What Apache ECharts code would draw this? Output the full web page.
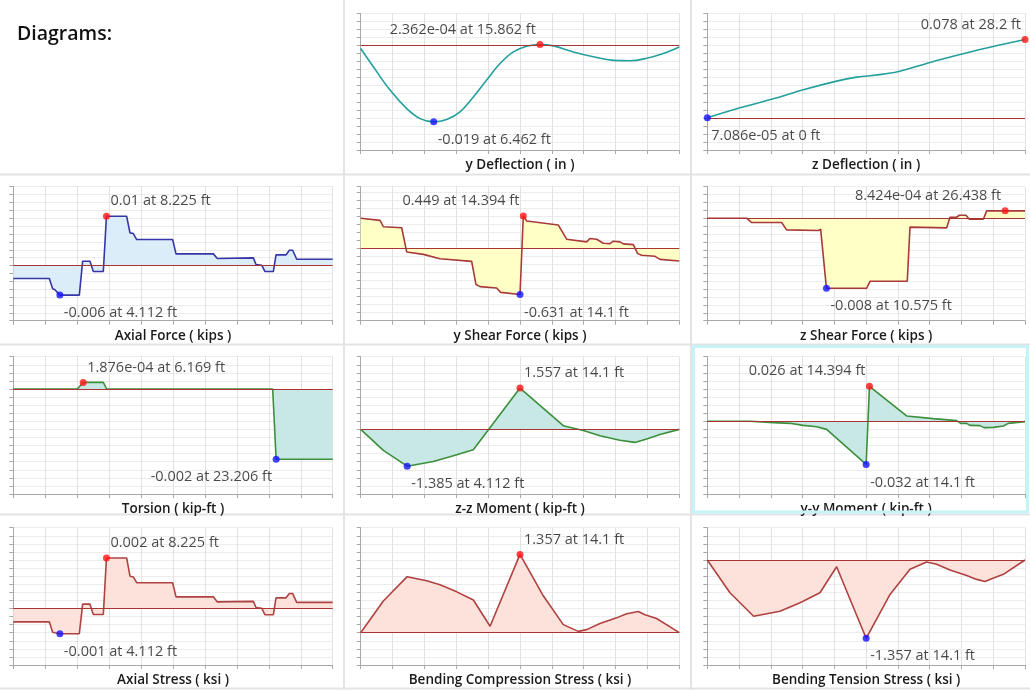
<!DOCTYPE html>
<html>
<head>
<meta charset="utf-8">
<script src="https://cdn.jsdelivr.net/npm/echarts@6/dist/echarts.min.js"></script>
<style>
  html, body { margin: 0; padding: 0; background: #ffffff; }
  #chart { width: 1030px; height: 692px; }
</style>
</head>
<body>
<div id="chart"></div>
<script>
// Member span along the length (ft) and station grid step
const SPAN_FT = 28.2;
const X_STEP = 2.82;

// y Deflection (in)
const yDeflFt  = [0, 1.121, 2.596, 4.071, 5.251, 6.462, 7.610, 8.790, 9.970, 11.150, 12.330, 13.510, 14.690, 15.862, 17.050, 18.820, 20.590, 22.360, 23.834, 25.309, 26.784, 28.2];
const yDeflVal = [-0.00075, -0.0053, -0.0111, -0.0157, -0.0182, -0.019, -0.0184, -0.0165, -0.0128, -0.0086, -0.0045, -0.0016, -0.0002, 0.0002362, -0.0001, -0.0016, -0.0028, -0.0037, -0.0038, -0.0032, -0.002, -0.0004];
const yDeflMax = [15.862, 0.0002362];
const yDeflMin = [6.462, -0.019];
const yDeflAxis = [-0.026, 0.008, 0.002];

// z Deflection (in)
const zDeflFt  = [0, 2.90, 5.86, 8.52, 11.48, 13.26, 14.44, 15.62, 17.10, 19.77, 22.43, 25.09, 28.2];
const zDeflVal = [0.00007086, 0.0100, 0.0189, 0.0279, 0.0365, 0.0405, 0.0418, 0.0435, 0.0464, 0.0551, 0.0630, 0.0703, 0.078];
const zDeflMax = [28.2, 0.078];
const zDeflMin = [0, 0.00007086];
const zDeflAxis = [-0.032, 0.104, 0.008];

// Stations shared by axial force and axial stress
const axialFt = [0, 3.179, 3.473, 3.680, 4.112, 5.828, 6.123, 6.770, 7.065, 7.948, 8.225, 10.008, 10.303, 10.597, 10.891, 14.070, 14.365, 17.662, 18.015, 21.194, 21.430, 21.930, 22.224, 22.960, 23.196, 24.079, 24.373, 24.667, 25.021, 28.2];

// Axial Force (kips)
const axForceVal = [-0.00264, -0.00264, -0.00473, -0.00493, -0.006, -0.006, 0.00088, 0.00088, -0.00122, -0.00122, 0.01, 0.01, 0.00662, 0.00649, 0.00527, 0.00527, 0.00236, 0.00236, 0.00142, 0.00155, 0.0002, 0.00007, -0.00122, -0.00122, 0.00216, 0.00216, 0.00311, 0.00311, 0.00128, 0.00128];
const axForceMax = [8.225, 0.01];
const axForceMin = [4.112, -0.006];
const axForceAxis = [-0.0112, 0.016, 0.0016];

// y Shear Force (kips)
const yShearFt  = [0, 1.711, 2.006, 3.628, 4.071, 5.546, 7.020, 9.822, 10.206, 10.560, 12.035, 12.389, 14.1, 14.394, 14.690, 17.492, 18.230, 20.000, 20.295, 20.885, 21.475, 22.065, 22.360, 22.950, 23.245, 24.130, 24.514, 24.868, 26.048, 26.490, 28.2];
const yShearVal = [0.416, 0.388, 0.300, 0.286, -0.046, -0.079, -0.139, -0.176, -0.494, -0.522, -0.541, -0.601, -0.631, 0.449, 0.379, 0.323, 0.129, 0.092, 0.139, 0.129, 0.074, 0.069, 0.102, 0.092, 0.065, 0.055, -0.069, -0.092, -0.106, -0.148, -0.171];
const yShearMax = [14.394, 0.449];
const yShearMin = [14.1, -0.631];
const yShearAxis = [-0.99, 0.85, 0.11];

// z Shear Force (kips)
const zShearFt  = [0, 3.49, 3.94, 6.60, 7.04, 9.88, 10.06, 10.575, 14.14, 14.44, 17.75, 17.99, 21.25, 21.54, 22.13, 22.37, 22.96, 23.26, 24.50, 24.80, 28.2];
const zShearVal = [0, 0, -0.00049, -0.00049, -0.00133, -0.0014, -0.00125, -0.008, -0.008, -0.0072, -0.0072, -0.00102, -0.0011, 0.00011, 0.00011, 0.00034, 0.00034, -0.00011, -0.00011, 0.0008424, 0.0008424];
const zShearMax = [26.438, 0.0008424];
const zShearMin = [10.575, -0.008];
const zShearAxis = [-0.0117, 0.0036, 0.0009];

// Torsion (kip-ft)
const torsionFt  = [0, 5.65, 6.169, 7.95, 8.24, 22.90, 23.206, 28.2];
const torsionVal = [0, 0, 0.0001876, 0.0001876, 0, 0, -0.002, -0.002];
const torsionMax = [6.169, 0.0001876];
const torsionMin = [23.206, -0.002];
const torsionAxis = [-0.00299, 0.00092, 0.00023];

// z-z Moment (kip-ft)
const zzMomFt  = [0, 2.006, 4.112, 6.43, 8.20, 9.97, 14.1, 17.93, 19.70, 21.18, 22.95, 24.28, 25.31, 26.49, 28.2];
const zzMomVal = [0, -0.79, -1.385, -1.21, -0.99, -0.77, 1.557, 0.14, -0.04, -0.24, -0.41, -0.49, -0.36, -0.19, 0];
const zzMomMax = [14.1, 1.557];
const zzMomMin = [4.112, -1.385];
const zzMomAxis = [-2.432, 2.736, 0.304];

// y-y Moment (kip-ft)
const yyMomFt  = [0, 3.79, 5.86, 7.34, 8.52, 9.71, 10.59, 14.1, 14.394, 17.69, 20.06, 22.13, 22.49, 23.02, 23.32, 24.2, 24.56, 25.39, 26.28, 26.72, 28.2];
const yyMomVal = [0, 0, -0.001, -0.0015, -0.003, -0.004, -0.006, -0.032, 0.026, 0.004, 0.002, 0.0005, -0.0015, -0.0015, -0.003, -0.0032, -0.0047, -0.0045, -0.0035, -0.0015, -0.0002];
const yyMomMax = [14.394, 0.026];
const yyMomMin = [14.1, -0.032];
const yyMomAxis = [-0.054, 0.048, 0.006];

// Axial Stress (ksi)
const axStressVal = [-0.00053, -0.00053, -0.00094, -0.00096, -0.001, -0.001, 0.00017, 0.00017, -0.00024, -0.00024, 0.002, 0.002, 0.00128, 0.00125, 0.00102, 0.00102, 0.00046, 0.00046, 0.00026, 0.00028, 0.00004, 0.00001, -0.00025, -0.00025, 0.00042, 0.00042, 0.00059, 0.00059, 0.00024, 0.00024];
const axStressMax = [8.225, 0.002];
const axStressMin = [4.112, -0.001];
const axStressAxis = [-0.00224, 0.0032, 0.00032];

// Bending Compression Stress (ksi)
const bendCompFt  = [0, 2.006, 4.112, 5.84, 7.02, 8.50, 9.97, 11.45, 14.1, 16.16, 17.93, 19.26, 20.0, 21.18, 22.65, 23.54, 24.57, 25.16, 26.19, 28.2];
const bendCompVal = [0, 0.55, 0.971, 0.90, 0.83, 0.708, 0.567, 0.111, 1.357, 0.64, 0.14, 0.023, 0.053, 0.158, 0.257, 0.328, 0.368, 0.31, 0.246, 0];
const bendCompMax = [14.1, 1.357];
const bendCompAxis = [-0.56, 1.82, 0.14];

// Bending Tension Stress (ksi)
const bendTensFt  = [0, 2.01, 4.112, 6.45, 8.23, 10.0, 11.48, 14.1, 16.22, 17.99, 19.47, 20.36, 21.54, 23.02, 23.91, 24.65, 25.24, 26.28, 28.2];
const bendTensVal = [0, -0.568, -0.974, -0.887, -0.742, -0.568, -0.116, -1.357, -0.597, -0.162, -0.035, -0.075, -0.174, -0.267, -0.336, -0.371, -0.325, -0.249, 0];
const bendTensMin = [14.1, -1.357];
const bendTensAxis = [-1.82, 0.56, 0.14];

// ---- presentation ----
const FONT = "'Open Sans', 'Noto Sans', sans-serif";
const ZERO_LINE = '#a83434';
const STYLES = {
  defl:   { line: '#23a09c', fill: null },
  force:  { line: '#3636a8', fill: '#dcedfa' },
  shear:  { line: '#a83a3a', fill: '#ffffc6' },
  moment: { line: '#3c8f3c', fill: '#c8e8e5' },
  stress: { line: '#b04141', fill: '#fde2db' }
};
// plot-area edges (px) for the 3 columns and 4 rows of the panel grid
const COLS = [[13.3, 332.7], [360.7, 679.3], [707.3, 1025]];
const ROWS = [[13.3, 150], [186.7, 320.7], [356.7, 494], [527.7, 665]];

const panels = [
  { title: 'y Deflection ( in )', ft: yDeflFt, val: yDeflVal, max: yDeflMax, min: yDeflMin, axis: yDeflAxis, col: 1, row: 0, style: 'defl', smooth: 0.4, maxSide: 'left', minSide: 'right' },
  { title: 'z Deflection ( in )', ft: zDeflFt, val: zDeflVal, max: zDeflMax, min: zDeflMin, axis: zDeflAxis, col: 2, row: 0, style: 'defl', smooth: 0.3, maxSide: 'left', minSide: 'right' },
  { title: 'Axial Force ( kips )', ft: axialFt, val: axForceVal, max: axForceMax, min: axForceMin, axis: axForceAxis, col: 0, row: 1, style: 'force', maxSide: 'right', minSide: 'right' },
  { title: 'y Shear Force ( kips )', ft: yShearFt, val: yShearVal, max: yShearMax, min: yShearMin, axis: yShearAxis, col: 1, row: 1, style: 'shear', maxSide: 'left', minSide: 'right' },
  { title: 'z Shear Force ( kips )', ft: zShearFt, val: zShearVal, max: zShearMax, min: zShearMin, axis: zShearAxis, col: 2, row: 1, style: 'shear', maxSide: 'left', minSide: 'right' },
  { title: 'Torsion ( kip-ft )', ft: torsionFt, val: torsionVal, max: torsionMax, min: torsionMin, axis: torsionAxis, col: 0, row: 2, style: 'moment', maxSide: 'right', minSide: 'left' },
  { title: 'z-z Moment ( kip-ft )', ft: zzMomFt, val: zzMomVal, max: zzMomMax, min: zzMomMin, axis: zzMomAxis, col: 1, row: 2, style: 'moment', maxSide: 'right', minSide: 'right' },
  { title: 'y-y Moment ( kip-ft )', ft: yyMomFt, val: yyMomVal, max: yyMomMax, min: yyMomMin, axis: yyMomAxis, col: 2, row: 2, style: 'moment', maxSide: 'left', minSide: 'right' },
  { title: 'Axial Stress ( ksi )', ft: axialFt, val: axStressVal, max: axStressMax, min: axStressMin, axis: axStressAxis, col: 0, row: 3, style: 'stress', maxSide: 'right', minSide: 'right' },
  { title: 'Bending Compression Stress ( ksi )', ft: bendCompFt, val: bendCompVal, max: bendCompMax, min: null, axis: bendCompAxis, col: 1, row: 3, style: 'stress', maxSide: 'right' },
  { title: 'Bending Tension Stress ( ksi )', ft: bendTensFt, val: bendTensVal, max: null, min: bendTensMin, axis: bendTensAxis, col: 2, row: 3, style: 'stress', minSide: 'right' }
];

function fmtValue(v) {
  if (v !== 0 && Math.abs(v) < 0.001) {
    return v.toExponential(3).replace(/e([+-])(\d)$/, 'e$10$2');
  }
  return String(parseFloat(v.toFixed(3)));
}
function fmtFt(x) { return String(parseFloat(x.toFixed(3))); }

function extremePoint(pt, color, side, dy) {
  return {
    value: pt,
    itemStyle: { color: color },
    label: {
      show: true,
      position: 'inside',
      align: side === 'left' ? 'right' : 'left',
      verticalAlign: 'middle',
      offset: [side === 'left' ? -4 : 4, dy],
      formatter: fmtValue(pt[1]) + ' at ' + fmtFt(pt[0]) + ' ft',
      fontFamily: FONT,
      fontSize: 14.5,
      color: '#1a1a1a'
    }
  };
}

const grids = [], xAxes = [], yAxes = [], series = [];
panels.forEach((p, i) => {
  const [l, r] = COLS[p.col];
  const [t, b] = ROWS[p.row];
  const st = STYLES[p.style];
  grids.push({ left: l, top: t, width: r - l, height: b - t, containLabel: false, outerBoundsMode: 'none' });
  xAxes.push({
    type: 'value', gridIndex: i, min: 0, max: SPAN_FT, interval: X_STEP,
    name: p.title, nameLocation: 'middle', nameGap: 8,
    nameTextStyle: { fontFamily: FONT, fontSize: 13.5, fontWeight: 600, color: '#1a1a1a', verticalAlign: 'top' },
    axisLine: { show: true, onZero: false, lineStyle: { color: '#a8a8a8', width: 1 } },
    axisTick: { show: true, length: 4, lineStyle: { color: '#a8a8a8' } },
    axisLabel: { show: false },
    splitLine: { show: true, lineStyle: { color: '#e2e2e2', width: 1 } }
  });
  yAxes.push({
    type: 'value', gridIndex: i, min: p.axis[0], max: p.axis[1], interval: p.axis[2],
    axisLine: { show: true, onZero: false, lineStyle: { color: '#a8a8a8', width: 1 } },
    axisTick: { show: true, length: 4, lineStyle: { color: '#a8a8a8' } },
    axisLabel: { show: false },
    splitLine: { show: true, lineStyle: { color: '#ececec', width: 1 } }
  });
  const line = {
    type: 'line', xAxisIndex: i, yAxisIndex: i,
    data: p.ft.map((x, k) => [x, p.val[k]]),
    showSymbol: false, symbol: 'none', smooth: p.smooth || false,
    lineStyle: { color: st.line, width: 1.6 },
    markLine: {
      silent: true, symbol: 'none', label: { show: false },
      lineStyle: { color: ZERO_LINE, width: 1, type: 'solid' },
      emphasis: { disabled: true },
      data: [{ yAxis: 0 }]
    },
    z: 3
  };
  if (st.fill) line.areaStyle = { color: st.fill, opacity: 1, origin: 'auto' };
  series.push(line);
  const pts = [];
  if (p.max) pts.push(extremePoint(p.max, '#ff1414', p.maxSide, -15));
  if (p.min) pts.push(extremePoint(p.min, '#1414ff', p.minSide, 18));
  series.push({
    type: 'scatter', xAxisIndex: i, yAxisIndex: i, symbol: 'circle', symbolSize: 7,
    data: pts, z: 5, clip: false, silent: true
  });
});

// cell dividers, heading and the highlighted cell frame
const graphics = [
  { type: 'line', shape: { x1: 344, y1: 0, x2: 344, y2: 690 }, style: { stroke: '#e3e3e3', lineWidth: 2 } },
  { type: 'line', shape: { x1: 691, y1: 0, x2: 691, y2: 690 }, style: { stroke: '#e3e3e3', lineWidth: 2 } },
  { type: 'line', shape: { x1: 0, y1: 174.5, x2: 1030, y2: 174.5 }, style: { stroke: '#e3e3e3', lineWidth: 2 } },
  { type: 'line', shape: { x1: 0, y1: 344.5, x2: 1030, y2: 344.5 }, style: { stroke: '#e3e3e3', lineWidth: 2 } },
  { type: 'line', shape: { x1: 0, y1: 514.5, x2: 1030, y2: 514.5 }, style: { stroke: '#e3e3e3', lineWidth: 2 } },
  { type: 'line', shape: { x1: 0, y1: 688.5, x2: 1030, y2: 688.5 }, style: { stroke: '#e3e3e3', lineWidth: 2 } },
  { type: 'text', left: 17, top: 24, style: { text: 'Diagrams:', fontFamily: FONT, fontSize: 19.5, fontWeight: 600, fill: '#111111' } },
  { type: 'rect', z: 100, shape: { x: 693.5, y: 346.5, width: 334, height: 165.5 }, style: { fill: null, stroke: '#c5f3f7', lineWidth: 3 } }
];

const chart = echarts.init(document.getElementById('chart'), null, { renderer: 'canvas' });
chart.setOption({
  animation: false,
  backgroundColor: '#ffffff',
  grid: grids,
  xAxis: xAxes,
  yAxis: yAxes,
  series: series,
  graphic: graphics
});
</script>
</body>
</html>
